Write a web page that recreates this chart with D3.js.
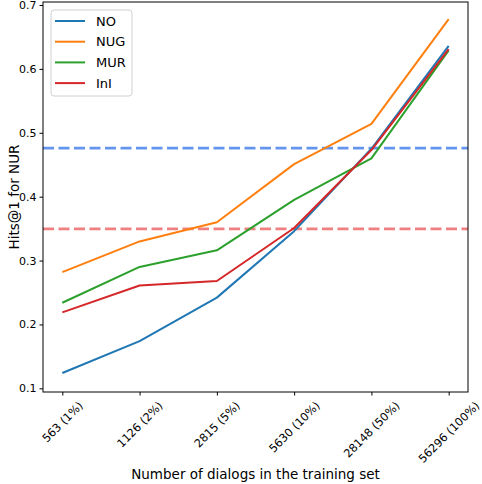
<!DOCTYPE html>
<html>
<head>
<meta charset="utf-8">
<script src="https://cdn.jsdelivr.net/npm/d3@7"></script>
<style>
  body { margin: 0; background: #fff; }
  text { font-family: "DejaVu Sans", sans-serif; fill: #000; }
</style>
</head>
<body>
<div id="chart"></div>
<script>
// categories on the x axis
const categories = ["563 (1%)", "1126 (2%)", "2815 (5%)", "5630 (10%)", "28148 (50%)", "56296 (100%)"];

// Hits@1 for each setting
const seriesNames = ["NO", "NUG", "MUR", "InI"];
const noValues  = [0.124, 0.174, 0.242, 0.346, 0.475, 0.636];
const nugValues = [0.282, 0.330, 0.360, 0.451, 0.514, 0.678];
const murValues = [0.234, 0.290, 0.316, 0.395, 0.460, 0.629];
const iniValues = [0.219, 0.261, 0.268, 0.351, 0.473, 0.631];

// reference lines
const blueRef = 0.476;
const redRef = 0.3495;

const yTicks = [0.1, 0.2, 0.3, 0.4, 0.5, 0.6, 0.7];

const colors = ["#1f77b4", "#ff7f0e", "#2ca02c", "#d62728"];
const allSeries = [noValues, nugValues, murValues, iniValues];

const W = 482, H = 484;
const margin = {left: 43, right: 14, top: 2, bottom: 92};

const svg = d3.select("#chart").append("svg")
    .attr("width", W)
    .attr("height", H);

// x is categorical but spaced like matplotlib index positions
const x = d3.scaleLinear()
    .domain([-0.25, categories.length - 1 + 0.25])
    .range([margin.left, W - margin.right]);

const y = d3.scaleLinear()
    .domain([0.0943, 0.7047])
    .range([H - margin.bottom, margin.top]);

const plot = svg.append("g");

// dashed reference lines
plot.append("line")
    .attr("x1", x.range()[0]).attr("x2", x.range()[1])
    .attr("y1", y(blueRef)).attr("y2", y(blueRef))
    .attr("stroke", "#6495ed")
    .attr("stroke-width", 2.8)
    .attr("stroke-dasharray", "11,4.5");

plot.append("line")
    .attr("x1", x.range()[0]).attr("x2", x.range()[1])
    .attr("y1", y(redRef)).attr("y2", y(redRef))
    .attr("stroke", "#f08080")
    .attr("stroke-width", 2.8)
    .attr("stroke-dasharray", "11,4.5");

// series lines
const line = d3.line()
    .x((d, i) => x(i))
    .y(d => y(d));

allSeries.forEach((s, k) => {
    plot.append("path")
        .datum(s)
        .attr("fill", "none")
        .attr("stroke", colors[k])
        .attr("stroke-width", 2)
        .attr("stroke-linejoin", "round")
        .attr("d", line);
});

// frame
svg.append("rect")
    .attr("x", x.range()[0])
    .attr("y", margin.top)
    .attr("width", x.range()[1] - x.range()[0])
    .attr("height", H - margin.bottom - margin.top)
    .attr("fill", "none")
    .attr("stroke", "#000")
    .attr("stroke-width", 1);

// y axis
const yAxis = d3.axisLeft(y)
    .tickValues(yTicks)
    .tickFormat(d3.format(".1f"))
    .tickSize(3.5)
    .tickPadding(3);

svg.append("g")
    .attr("transform", `translate(${x.range()[0]},0)`)
    .call(yAxis)
    .call(g => g.select(".domain").remove())
    .call(g => g.selectAll("text").style("font-size", "11px").style("font-family", "DejaVu Sans"));

// x axis
const xAxis = d3.axisBottom(x)
    .tickValues(d3.range(categories.length))
    .tickFormat(i => categories[i])
    .tickSize(3.5);

const xg = svg.append("g")
    .attr("transform", `translate(0,${H - margin.bottom})`)
    .call(xAxis)
    .call(g => g.select(".domain").remove());

// rotate tick labels 45 deg, centred on the tick like matplotlib
xg.selectAll(".tick text")
    .style("font-size", "11.3px")
    .style("font-family", "DejaVu Sans")
    .attr("text-anchor", "middle")
    .attr("dominant-baseline", "central")
    .attr("dy", null)
    .each(function() {
        const len = this.getComputedTextLength();
        const h = 11;
        const half = (len + h) / Math.SQRT2 / 2;
        d3.select(this)
            .attr("y", null)
            .attr("transform", `translate(0,${8 + half}) rotate(-45)`);
    });

// axis titles
svg.append("text")
    .attr("x", (x.range()[0] + x.range()[1]) / 2)
    .attr("y", 479)
    .attr("text-anchor", "middle")
    .style("font-size", "13.5px")
    .text("Number of dialogs in the training set");

svg.append("text")
    .attr("transform", `translate(14,${(y.range()[0] + y.range()[1]) / 2}) rotate(-90)`)
    .attr("text-anchor", "middle")
    .attr("dy", "0.35em")
    .style("font-size", "13.5px")
    .text("Hits@1 for NUR");

// legend
const legend = svg.append("g")
    .attr("transform", "translate(51,10)");

legend.append("rect")
    .attr("width", 81)
    .attr("height", 86)
    .attr("rx", 3)
    .attr("fill", "#fff")
    .attr("fill-opacity", 0.8)
    .attr("stroke", "#d0d0d0");

seriesNames.forEach((name, k) => {
    const ly = 11 + k * 20.7;
    legend.append("line")
        .attr("x1", 4).attr("x2", 34)
        .attr("y1", ly).attr("y2", ly)
        .attr("stroke", colors[k])
        .attr("stroke-width", 2);
    legend.append("text")
        .attr("x", 45)
        .attr("y", ly)
        .attr("dy", "0.35em")
        .style("font-size", "13px")
        .text(name);
});
</script>
</body>
</html>
